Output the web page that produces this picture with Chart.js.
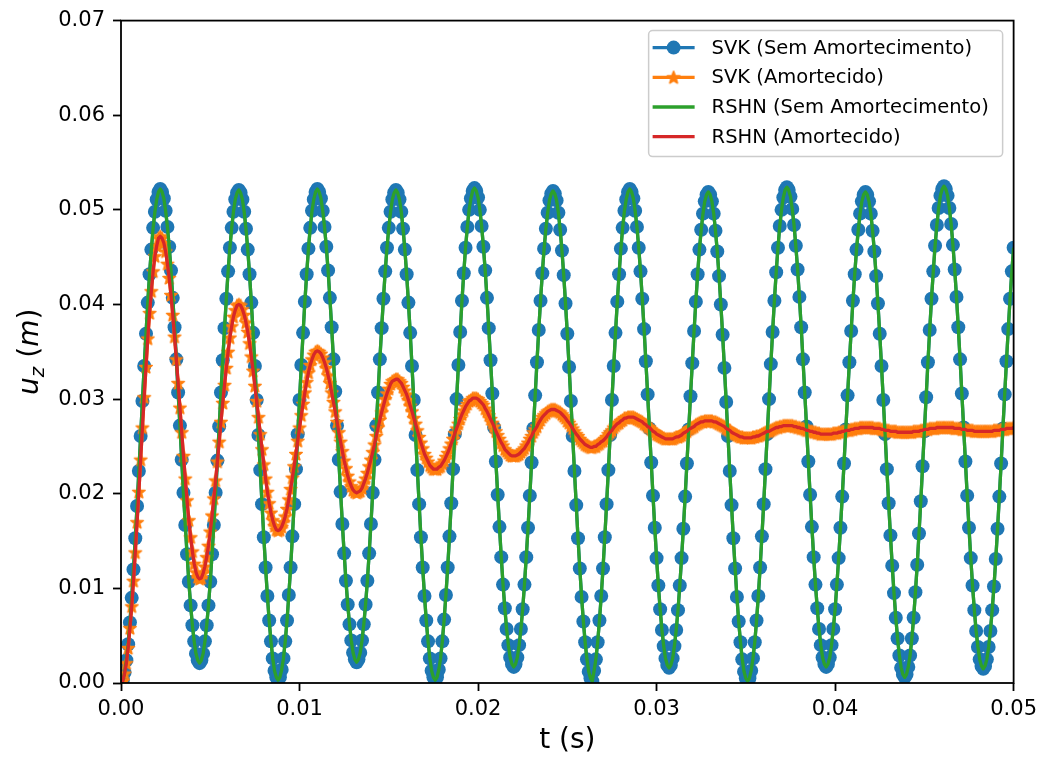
<!DOCTYPE html>
<html>
<head>
<meta charset="utf-8">
<script src="https://cdn.jsdelivr.net/npm/chart.js@4.4.0/dist/chart.umd.min.js"></script>
<style>
  html, body { margin: 0; padding: 0; background: #fff; }
</style>
</head>
<body>
<canvas id="chartResposta" width="1043" height="758"></canvas>
<script>
// passo de tempo das amostras (s)
const dt = 1e-4;

const xTicks = [0, 0.01, 0.02, 0.03, 0.04, 0.05];
const yTicks = [0, 0.01, 0.02, 0.03, 0.04, 0.05, 0.06, 0.07];

// deslocamento u_z (m) sem amortecimento, uma linha por meio ciclo
const uSemAmortecimento = [
  0, 0.0003, 0.0011, 0.0024, 0.0041, 0.0064, 0.0090, 0.0120, 0.0153, 0.0187, 0.0224, 0.0261, 0.0298, 0.0335, 0.0369, 0.0402, 0.0432, 0.0458, 0.0481, 0.0498, 0.0511, 0.0519, 0.0522,
  0.0519, 0.0512, 0.0499, 0.0482, 0.0461, 0.0436, 0.0407, 0.0376, 0.0342, 0.0307, 0.0272, 0.0236, 0.0201, 0.0167, 0.0136, 0.0107, 0.0082, 0.0061, 0.0044, 0.0031, 0.0024, 0.0021,
  0.0024, 0.0031, 0.0044, 0.0061, 0.0082, 0.0107, 0.0136, 0.0167, 0.0201, 0.0235, 0.0271, 0.0307, 0.0341, 0.0375, 0.0406, 0.0435, 0.0460, 0.0481, 0.0498, 0.0511, 0.0518, 0.0521,
  0.0518, 0.0511, 0.0498, 0.0480, 0.0458, 0.0432, 0.0402, 0.0370, 0.0335, 0.0299, 0.0262, 0.0225, 0.0189, 0.0154, 0.0122, 0.0092, 0.0066, 0.0044, 0.0026, 0.0013, 0.0006, 0.0003,
  0.0006, 0.0014, 0.0026, 0.0044, 0.0066, 0.0093, 0.0122, 0.0155, 0.0189, 0.0226, 0.0263, 0.0299, 0.0336, 0.0370, 0.0403, 0.0432, 0.0459, 0.0481, 0.0499, 0.0511, 0.0519, 0.0522,
  0.0519, 0.0512, 0.0499, 0.0482, 0.0461, 0.0436, 0.0407, 0.0376, 0.0342, 0.0308, 0.0272, 0.0236, 0.0202, 0.0168, 0.0137, 0.0108, 0.0083, 0.0062, 0.0045, 0.0032, 0.0025, 0.0022,
  0.0025, 0.0032, 0.0045, 0.0062, 0.0083, 0.0108, 0.0137, 0.0168, 0.0201, 0.0236, 0.0272, 0.0307, 0.0342, 0.0375, 0.0406, 0.0435, 0.0460, 0.0481, 0.0498, 0.0511, 0.0518, 0.0521,
  0.0518, 0.0511, 0.0498, 0.0480, 0.0458, 0.0432, 0.0402, 0.0370, 0.0335, 0.0299, 0.0262, 0.0225, 0.0189, 0.0154, 0.0122, 0.0092, 0.0066, 0.0044, 0.0026, 0.0013, 0.0006, 0.0003,
  0.0006, 0.0014, 0.0026, 0.0044, 0.0067, 0.0093, 0.0122, 0.0155, 0.0190, 0.0226, 0.0263, 0.0300, 0.0336, 0.0371, 0.0404, 0.0433, 0.0460, 0.0482, 0.0500, 0.0512, 0.0520, 0.0523,
  0.0520, 0.0513, 0.0500, 0.0483, 0.0461, 0.0436, 0.0407, 0.0375, 0.0341, 0.0306, 0.0270, 0.0234, 0.0199, 0.0165, 0.0133, 0.0104, 0.0079, 0.0057, 0.0040, 0.0027, 0.0020, 0.0017,
  0.0020, 0.0027, 0.0040, 0.0057, 0.0078, 0.0104, 0.0133, 0.0164, 0.0198, 0.0233, 0.0269, 0.0304, 0.0339, 0.0373, 0.0404, 0.0433, 0.0459, 0.0480, 0.0497, 0.0510, 0.0517, 0.0520,
  0.0517, 0.0510, 0.0497, 0.0479, 0.0457, 0.0431, 0.0401, 0.0369, 0.0334, 0.0298, 0.0261, 0.0224, 0.0188, 0.0153, 0.0121, 0.0091, 0.0065, 0.0043, 0.0025, 0.0012, 0.0005, 0.0002,
  0.0013, 0.0025, 0.0043, 0.0066, 0.0092, 0.0121, 0.0154, 0.0189, 0.0225, 0.0262, 0.0299, 0.0335, 0.0370, 0.0403, 0.0432, 0.0459, 0.0481, 0.0499, 0.0511, 0.0519, 0.0522,
  0.0519, 0.0512, 0.0499, 0.0482, 0.0460, 0.0435, 0.0406, 0.0374, 0.0340, 0.0305, 0.0269, 0.0233, 0.0198, 0.0164, 0.0132, 0.0103, 0.0078, 0.0056, 0.0039, 0.0026, 0.0019, 0.0016,
  0.0019, 0.0026, 0.0039, 0.0056, 0.0077, 0.0103, 0.0132, 0.0163, 0.0197, 0.0232, 0.0268, 0.0303, 0.0338, 0.0372, 0.0403, 0.0432, 0.0458, 0.0479, 0.0496, 0.0509, 0.0516, 0.0519,
  0.0516, 0.0509, 0.0496, 0.0478, 0.0456, 0.0430, 0.0400, 0.0368, 0.0333, 0.0297, 0.0261, 0.0224, 0.0188, 0.0153, 0.0121, 0.0091, 0.0065, 0.0043, 0.0025, 0.0012, 0.0005, 0.0002,
  0.0005, 0.0013, 0.0026, 0.0043, 0.0066, 0.0092, 0.0122, 0.0155, 0.0189, 0.0226, 0.0263, 0.0300, 0.0337, 0.0371, 0.0404, 0.0434, 0.0460, 0.0483, 0.0500, 0.0513, 0.0521, 0.0524,
  0.0521, 0.0514, 0.0501, 0.0484, 0.0462, 0.0437, 0.0408, 0.0376, 0.0342, 0.0307, 0.0271, 0.0234, 0.0199, 0.0165, 0.0133, 0.0104, 0.0079, 0.0057, 0.0040, 0.0027, 0.0020, 0.0017,
  0.0020, 0.0027, 0.0040, 0.0057, 0.0078, 0.0104, 0.0132, 0.0164, 0.0197, 0.0232, 0.0268, 0.0304, 0.0339, 0.0372, 0.0404, 0.0432, 0.0458, 0.0479, 0.0496, 0.0509, 0.0516, 0.0519,
  0.0516, 0.0509, 0.0496, 0.0478, 0.0456, 0.0430, 0.0401, 0.0369, 0.0335, 0.0299, 0.0263, 0.0226, 0.0190, 0.0156, 0.0124, 0.0095, 0.0069, 0.0047, 0.0029, 0.0016, 0.0009, 0.0006,
  0.0009, 0.0017, 0.0029, 0.0047, 0.0069, 0.0096, 0.0125, 0.0158, 0.0192, 0.0229, 0.0266, 0.0302, 0.0339, 0.0373, 0.0406, 0.0435, 0.0462, 0.0484, 0.0502, 0.0515, 0.0522, 0.0525,
  0.0522, 0.0515, 0.0502, 0.0485, 0.0463, 0.0437, 0.0408, 0.0376, 0.0342, 0.0306, 0.0270, 0.0234, 0.0198, 0.0164, 0.0132, 0.0103, 0.0077, 0.0055, 0.0038, 0.0025, 0.0018, 0.0015,
  0.0018, 0.0025, 0.0038, 0.0055, 0.0077, 0.0102, 0.0131, 0.0163, 0.0197, 0.0232, 0.0269, 0.0305, 0.0340, 0.0374, 0.0406, 0.0435, 0.0460
];

// deslocamento u_z (m) com amortecimento
const uAmortecido = [
  0, 0.0002, 0.0010, 0.0021, 0.0037, 0.0058, 0.0081, 0.0108, 0.0138, 0.0170, 0.0202, 0.0236, 0.0270, 0.0302, 0.0334, 0.0364, 0.0391, 0.0414, 0.0435, 0.0451, 0.0462, 0.0470, 0.0472,
  0.0470, 0.0465, 0.0456, 0.0443, 0.0428, 0.0410, 0.0389, 0.0366, 0.0342, 0.0317, 0.0291, 0.0265, 0.0240, 0.0216, 0.0193, 0.0172, 0.0154, 0.0139, 0.0126, 0.0117, 0.0112, 0.0110,
  0.0111, 0.0116, 0.0123, 0.0133, 0.0145, 0.0160, 0.0177, 0.0195, 0.0214, 0.0234, 0.0255, 0.0276, 0.0296, 0.0315, 0.0333, 0.0350, 0.0365, 0.0377, 0.0387, 0.0394, 0.0399, 0.0400,
  0.0399, 0.0395, 0.0389, 0.0381, 0.0371, 0.0359, 0.0345, 0.0330, 0.0314, 0.0298, 0.0281, 0.0263, 0.0247, 0.0231, 0.0216, 0.0202, 0.0190, 0.0180, 0.0172, 0.0166, 0.0162, 0.0161,
  0.0162, 0.0165, 0.0170, 0.0176, 0.0184, 0.0194, 0.0205, 0.0217, 0.0229, 0.0242, 0.0256, 0.0270, 0.0283, 0.0295, 0.0307, 0.0318, 0.0328, 0.0336, 0.0342, 0.0347, 0.0350, 0.0351,
  0.0350, 0.0348, 0.0344, 0.0339, 0.0333, 0.0325, 0.0317, 0.0307, 0.0297, 0.0287, 0.0276, 0.0265, 0.0255, 0.0245, 0.0235, 0.0227, 0.0219, 0.0213, 0.0208, 0.0204, 0.0202, 0.0201,
  0.0202, 0.0203, 0.0206, 0.0211, 0.0216, 0.0222, 0.0229, 0.0236, 0.0244, 0.0252, 0.0261, 0.0270, 0.0278, 0.0286, 0.0293, 0.0300, 0.0306, 0.0311, 0.0316, 0.0319, 0.0320, 0.0321,
  0.0321, 0.0319, 0.0317, 0.0313, 0.0309, 0.0305, 0.0299, 0.0293, 0.0287, 0.0280, 0.0274, 0.0267, 0.0260, 0.0254, 0.0248, 0.0242, 0.0238, 0.0234, 0.0230, 0.0228, 0.0226, 0.0226,
  0.0226, 0.0228, 0.0229, 0.0232, 0.0235, 0.0239, 0.0243, 0.0248, 0.0253, 0.0258, 0.0264, 0.0269, 0.0274, 0.0279, 0.0284, 0.0288, 0.0292, 0.0295, 0.0298, 0.0299, 0.0301, 0.0301,
  0.0301, 0.0300, 0.0298, 0.0296, 0.0294, 0.0290, 0.0287, 0.0283, 0.0279, 0.0275, 0.0271, 0.0266, 0.0262, 0.0258, 0.0254, 0.0251, 0.0247, 0.0245, 0.0243, 0.0241, 0.0240, 0.0240,
  0.0240, 0.0241, 0.0242, 0.0244, 0.0246, 0.0248, 0.0251, 0.0254, 0.0258, 0.0261, 0.0265, 0.0268, 0.0271, 0.0275, 0.0278, 0.0281, 0.0283, 0.0285, 0.0287, 0.0288, 0.0289, 0.0289,
  0.0289, 0.0288, 0.0287, 0.0286, 0.0284, 0.0282, 0.0280, 0.0277, 0.0275, 0.0272, 0.0269, 0.0266, 0.0263, 0.0261, 0.0258, 0.0256, 0.0254, 0.0252, 0.0251, 0.0250, 0.0249, 0.0249,
  0.0250, 0.0250, 0.0252, 0.0253, 0.0255, 0.0256, 0.0258, 0.0260, 0.0263, 0.0265, 0.0267, 0.0270, 0.0272, 0.0274, 0.0275, 0.0277, 0.0278, 0.0280, 0.0280, 0.0281, 0.0281,
  0.0281, 0.0281, 0.0280, 0.0279, 0.0278, 0.0277, 0.0276, 0.0274, 0.0273, 0.0271, 0.0270, 0.0268, 0.0266, 0.0265, 0.0263, 0.0262, 0.0261, 0.0260, 0.0259, 0.0258, 0.0258, 0.0258,
  0.0258, 0.0258, 0.0259, 0.0260, 0.0260, 0.0261, 0.0262, 0.0264, 0.0265, 0.0266, 0.0268, 0.0269, 0.0270, 0.0271, 0.0273, 0.0274, 0.0275, 0.0276, 0.0276, 0.0277, 0.0277, 0.0277,
  0.0277, 0.0277, 0.0276, 0.0276, 0.0275, 0.0274, 0.0273, 0.0272, 0.0271, 0.0269, 0.0268, 0.0267, 0.0265, 0.0264, 0.0263, 0.0262, 0.0261, 0.0260, 0.0260, 0.0259, 0.0259, 0.0259,
  0.0259, 0.0259, 0.0260, 0.0260, 0.0261, 0.0261, 0.0262, 0.0263, 0.0264, 0.0265, 0.0266, 0.0266, 0.0267, 0.0268, 0.0269, 0.0270, 0.0270, 0.0271, 0.0271, 0.0272, 0.0272, 0.0272,
  0.0272, 0.0272, 0.0272, 0.0271, 0.0271, 0.0270, 0.0270, 0.0269, 0.0269, 0.0268, 0.0267, 0.0267, 0.0266, 0.0266, 0.0265, 0.0265, 0.0264, 0.0264, 0.0263, 0.0263, 0.0263, 0.0263,
  0.0263, 0.0263, 0.0263, 0.0264, 0.0264, 0.0264, 0.0265, 0.0265, 0.0266, 0.0266, 0.0267, 0.0267, 0.0267, 0.0268, 0.0268, 0.0269, 0.0269, 0.0269, 0.0270, 0.0270, 0.0270, 0.0270,
  0.0270, 0.0270, 0.0270, 0.0270, 0.0269, 0.0269, 0.0269, 0.0269, 0.0268, 0.0268, 0.0267, 0.0267, 0.0267, 0.0266, 0.0266, 0.0266, 0.0266, 0.0265, 0.0265, 0.0265, 0.0265, 0.0265,
  0.0265, 0.0265, 0.0265, 0.0265, 0.0266, 0.0266, 0.0266, 0.0266, 0.0267, 0.0267, 0.0268, 0.0268, 0.0268, 0.0269, 0.0269, 0.0269, 0.0269, 0.0270, 0.0270, 0.0270, 0.0270, 0.0270,
  0.0270, 0.0270, 0.0270, 0.0270, 0.0270, 0.0269, 0.0269, 0.0269, 0.0269, 0.0268, 0.0268, 0.0268, 0.0267, 0.0267, 0.0267, 0.0267, 0.0266, 0.0266, 0.0266, 0.0266, 0.0266, 0.0266,
  0.0266, 0.0266, 0.0266, 0.0266, 0.0266, 0.0267, 0.0267, 0.0267, 0.0267, 0.0268, 0.0268, 0.0268, 0.0269, 0.0269, 0.0269, 0.0269, 0.0270
];

const FONTE = "'DejaVu Sans', sans-serif";
const COR = { azul: '#1f77b4', laranja: '#ff7f0e', verde: '#2ca02c', vermelho: '#d62728' };

function pontos(serie) {
  return serie.map((u, i) => ({ x: i * dt, y: u }));
}

// marcador estrela de 5 pontas preenchida, com contorno da mesma cor
function estrela(tam, cor) {
  const c = document.createElement('canvas');
  c.width = c.height = tam;
  const g = c.getContext('2d');
  const r = tam / 2 - 1.5, ri = r * 0.42, cx = tam / 2, cy = tam / 2 + 0.5;
  g.beginPath();
  for (let k = 0; k < 10; k++) {
    const raio = k % 2 ? ri : r;
    const a = -Math.PI / 2 + k * Math.PI / 5;
    g.lineTo(cx + raio * Math.cos(a), cy + raio * Math.sin(a));
  }
  g.closePath();
  g.fillStyle = cor;
  g.fill();
  g.strokeStyle = cor;
  g.lineWidth = 1.6;
  g.lineJoin = 'round';
  g.stroke();
  return c;
}

const marcaEstrela = estrela(16, COR.laranja);

// moldura completa dos eixos, por cima das curvas
const molduraPlugin = {
  id: 'moldura',
  afterDatasetsDraw(chart) {
    const { ctx, chartArea: a } = chart;
    ctx.save();
    ctx.strokeStyle = '#000';
    ctx.lineWidth = 1.8;
    ctx.strokeRect(a.left, a.top, a.right - a.left, a.bottom - a.top);
    ctx.restore();
  }
};

// rótulo do eixo y com subscrito: u_z (m)
const rotuloYPlugin = {
  id: 'rotuloY',
  afterDraw(chart) {
    const { ctx, chartArea: a } = chart;
    const partes = [
      { t: 'u', f: `italic 28px ${FONTE}`, dy: 0 },
      { t: 'z', f: `italic 20px ${FONTE}`, dy: 6 },
      { t: ' (', f: `28px ${FONTE}`, dy: 0 },
      { t: 'm', f: `italic 28px ${FONTE}`, dy: 0 },
      { t: ')', f: `28px ${FONTE}`, dy: 0 }
    ];
    ctx.save();
    let total = 0;
    partes.forEach(p => { ctx.font = p.f; p.w = ctx.measureText(p.t).width; total += p.w; });
    ctx.translate(38, (a.top + a.bottom) / 2);
    ctx.rotate(-Math.PI / 2);
    ctx.fillStyle = '#000';
    ctx.textBaseline = 'alphabetic';
    let x = -total / 2;
    partes.forEach(p => { ctx.font = p.f; ctx.fillText(p.t, x, p.dy); x += p.w; });
    ctx.restore();
  }
};

// legenda dentro da área do gráfico, canto superior direito
const legendaPlugin = {
  id: 'legendaInterna',
  afterDraw(chart) {
    const { ctx, chartArea: a } = chart;
    const w = 354, h = 126;
    const x0 = a.right - 11 - w, y0 = a.top + 10;
    ctx.save();
    ctx.beginPath();
    ctx.roundRect(x0, y0, w, h, 4);
    ctx.fillStyle = 'rgba(255,255,255,0.8)';
    ctx.fill();
    ctx.strokeStyle = '#cccccc';
    ctx.lineWidth = 1.5;
    ctx.stroke();
    ctx.font = `19.5px ${FONTE}`;
    ctx.textBaseline = 'middle';
    chart.data.datasets.forEach((ds, i) => {
      const y = y0 + 17 + i * 29.7;
      const xa = x0 + 4, xb = x0 + 46, xm = (xa + xb) / 2;
      ctx.strokeStyle = ds.borderColor;
      ctx.lineWidth = 3.3;
      ctx.beginPath();
      ctx.moveTo(xa, y);
      ctx.lineTo(xb, y);
      ctx.stroke();
      if (ds.pointStyle instanceof HTMLCanvasElement) {
        ctx.drawImage(ds.pointStyle, xm - ds.pointStyle.width / 2, y - ds.pointStyle.height / 2);
      } else if (ds.pointRadius > 0) {
        ctx.fillStyle = ds.pointBackgroundColor;
        ctx.beginPath();
        ctx.arc(xm, y, ds.pointRadius, 0, Math.PI * 2);
        ctx.fill();
      }
      ctx.fillStyle = '#000';
      ctx.fillText(ds.label, x0 + 63, y + 1);
    });
    ctx.restore();
  }
};

const comum = { borderWidth: 3.3, tension: 0, fill: false, clip: 0, borderJoinStyle: 'round', pointBorderWidth: 0 };

new Chart(document.getElementById('chartResposta'), {
  type: 'line',
  data: {
    datasets: [
      { ...comum, label: 'SVK (Sem Amortecimento)', data: pontos(uSemAmortecimento), borderColor: COR.azul, pointBackgroundColor: COR.azul, pointRadius: 7, order: 4 },
      { ...comum, label: 'SVK (Amortecido)', data: pontos(uAmortecido), borderColor: COR.laranja, pointBackgroundColor: COR.laranja, pointStyle: marcaEstrela, pointRadius: 7, order: 3 },
      { ...comum, label: 'RSHN (Sem Amortecimento)', data: pontos(uSemAmortecimento), borderColor: COR.verde, pointRadius: 0, order: 2 },
      { ...comum, label: 'RSHN (Amortecido)', data: pontos(uAmortecido), borderColor: COR.vermelho, pointRadius: 0, order: 1 }
    ]
  },
  options: {
    responsive: false,
    animation: false,
    events: [],
    layout: { padding: { left: 0, right: 29, top: 18, bottom: 0 } },
    plugins: { legend: { display: false }, tooltip: { enabled: false } },
    scales: {
      x: {
        type: 'linear', min: 0, max: 0.05,
        afterBuildTicks: s => { s.ticks = xTicks.map(v => ({ value: v })); },
        afterFit: s => { s.height = 75; },
        ticks: { callback: v => v.toFixed(2), color: '#000', font: { family: FONTE, size: 21 }, padding: 6, maxRotation: 0 },
        grid: { drawOnChartArea: false, drawTicks: true, tickLength: 8, tickColor: '#000', tickWidth: 1.8 },
        border: { display: false },
        title: { display: true, text: 't (s)', color: '#000', font: { family: FONTE, size: 28 }, padding: { top: 0, bottom: 0 } }
      },
      y: {
        type: 'linear', min: 0, max: 0.07,
        afterBuildTicks: s => { s.ticks = yTicks.map(v => ({ value: v })); },
        afterFit: s => { s.width = 121; },
        ticks: { callback: v => v.toFixed(2), color: '#000', font: { family: FONTE, size: 21 }, padding: 8 },
        grid: { drawOnChartArea: false, drawTicks: true, tickLength: 8, tickColor: '#000', tickWidth: 1.8 },
        border: { display: false }
      }
    }
  },
  plugins: [molduraPlugin, rotuloYPlugin, legendaPlugin]
});
</script>
</body>
</html>
